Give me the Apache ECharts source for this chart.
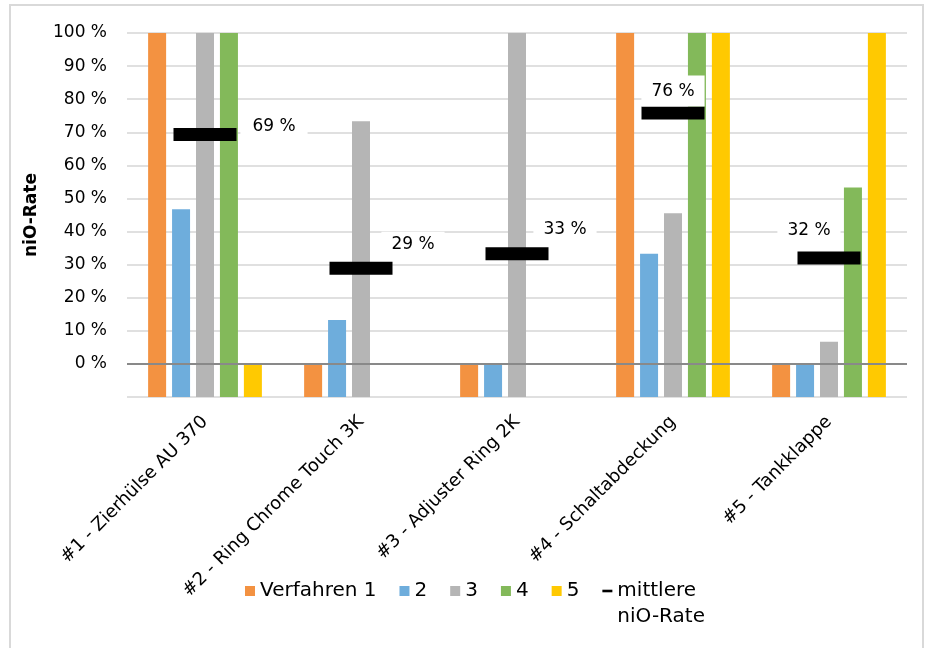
<!DOCTYPE html>
<html>
<head>
<meta charset="utf-8">
<script src="https://cdn.jsdelivr.net/npm/echarts@6/dist/echarts.min.js"></script>
<style>
  html, body { margin: 0; padding: 0; background: #fff; }
  #main { width: 931px; height: 648px; }
</style>
</head>
<body>
<div id="main"></div>
<script>
var categories = ['#1 - Zierhülse AU 370', '#2 - Ring Chrome Touch 3K', '#3 - Adjuster Ring 2K', '#4 - Schaltabdeckung', '#5 - Tankklappe'];
var verfahren1 = [100, 0, 0, 100, 0];
var verfahren2 = [46.7, 13.3, 0, 33.3, 0];
var verfahren3 = [100, 73.3, 100, 45.5, 6.7];
var verfahren4 = [100, null, null, 100, 53.3];
var verfahren5 = [0, null, null, 100, 100];
var mittlere = [69.3, 28.9, 33.3, 75.8, 32.0];

// where Excel put the labels of the mean markers
var labelOffsets = [[69, -8], [52, -24], [48, -24], [0, -22], [-20, -27]];
var labelPads = [[4, 12], [4, 10], [4, 10], [7, 10], [4, 10]];

var FONT = 'DejaVu Sans';
var chart = echarts.init(document.getElementById('main'));

function barSeries(name, data, color) {
    return {
        name: name,
        type: 'bar',
        data: data,
        barWidth: 18,
        barGap: '33%',
        itemStyle: { color: color }
    };
}

var series = [
    barSeries('Verfahren 1', verfahren1, '#F39241'),
    barSeries('2', verfahren2, '#6EADDC'),
    barSeries('3', verfahren3, '#B5B5B5'),
    barSeries('4', verfahren4, '#83B95A'),
    barSeries('5', verfahren5, '#FFC901')
];
// 0 % line
series[0].markLine = {
    silent: true,
    symbol: 'none',
    label: { show: false },
    lineStyle: { color: '#898989', width: 2, type: 'solid' },
    data: [{ yAxis: 0 }]
};

series.push({
    name: 'mittlere niO-Rate',
    type: 'scatter',
    symbol: 'rect',
    symbolSize: [63, 13],
    itemStyle: { color: '#000', opacity: 1 },
    z: 5,
    data: mittlere.map(function (v, i) {
        return {
            value: v,
            label: { offset: labelOffsets[i], padding: labelPads[i] }
        };
    }),
    label: {
        show: true,
        position: 'inside',
        color: '#000',
        fontFamily: FONT,
        fontSize: 17,
        backgroundColor: '#fff',
        formatter: function (p) { return Math.round(p.value) + ' %'; }
    }
});

var option = {
    animation: false,
    textStyle: { fontFamily: FONT },
    graphic: [{
        type: 'rect',
        shape: { x: 10, y: 5, width: 913, height: 660 },
        style: { fill: 'none', stroke: '#d9d9d9', lineWidth: 2 },
        silent: true
    }],
    grid: { left: 127, right: 24, top: 33, bottom: 251 },
    legend: {
        left: 240,
        top: 547,
        itemWidth: 10,
        itemHeight: 10,
        itemGap: 23,
        textStyle: { fontFamily: FONT, fontSize: 20, color: '#000', lineHeight: 26 },
        data: [
            { name: 'Verfahren 1', icon: 'rect' },
            { name: '2', icon: 'rect' },
            { name: '3', icon: 'rect' },
            { name: '4', icon: 'rect' },
            { name: '5', icon: 'rect' },
            { name: 'mittlere niO-Rate', icon: 'path://M0,4 L10,4 L10,6.6 L0,6.6 Z' }
        ],
        // blank first line keeps "mittlere" level with the other entries
        formatter: function (n) {
            return n === 'mittlere niO-Rate' ? '\nmittlere\nniO-Rate' : n;
        }
    },
    xAxis: {
        type: 'category',
        data: categories,
        axisLine: { show: false },
        axisTick: { show: false },
        axisLabel: {
            rotate: 45,
            interval: 0,
            margin: 22,
            fontSize: 18,
            color: '#000',
            fontFamily: FONT
        }
    },
    yAxis: {
        type: 'value',
        min: -10,
        max: 100,
        interval: 10,
        startValue: -10,
        name: 'niO-Rate',
        nameLocation: 'middle',
        nameGap: 87,
        nameTextStyle: { fontSize: 17, fontWeight: 'bold', color: '#000', fontFamily: FONT },
        axisLine: { show: false },
        axisTick: { show: false },
        axisLabel: {
            fontSize: 17,
            color: '#000',
            margin: 20,
            fontFamily: FONT,
            formatter: function (v) { return v < 0 ? '' : v + ' %'; }
        },
        splitLine: { lineStyle: { color: '#e0e0e0', width: 2 } }
    },
    series: series
};
chart.setOption(option);
</script>
</body>
</html>
